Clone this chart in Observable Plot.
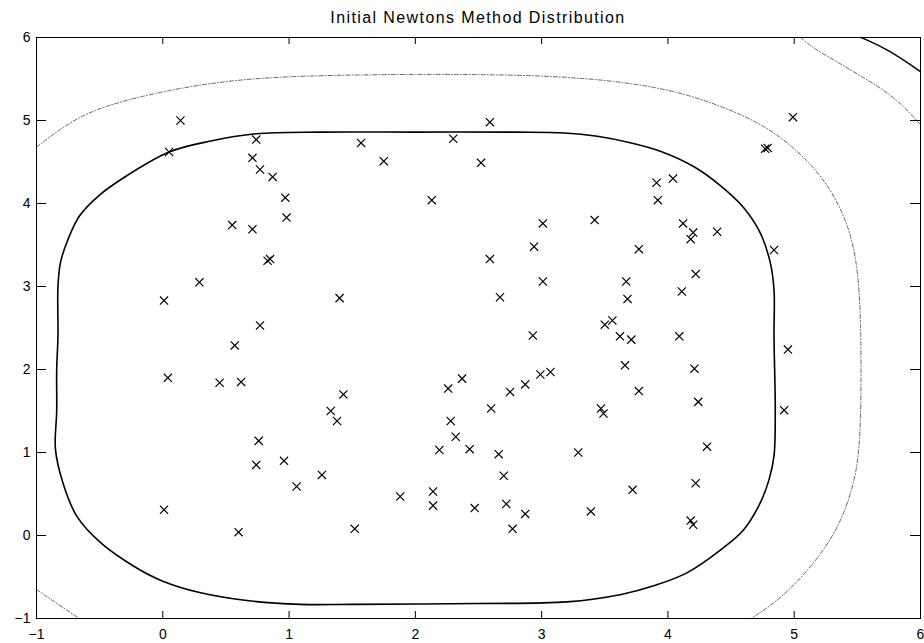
<!DOCTYPE html>
<html><head><meta charset="utf-8">
<script src="https://cdn.jsdelivr.net/npm/d3@7"></script>
<script src="https://cdn.jsdelivr.net/npm/@observablehq/plot@0.6"></script>
<style>
body{margin:0;background:#fff;}
#title{height:30px;width:924px;position:relative;font:16px "Liberation Sans",Arial,sans-serif;letter-spacing:1.4px;color:#000;}
#title span{position:absolute;left:478px;top:9px;transform:translateX(-50%);white-space:nowrap;}
</style></head><body>
<div id="title"><span>Initial Newtons Method Distribution</span></div>
<div id="chart"></div>
<script>
// Tick values
const xTicks = [-1, 0, 1, 2, 3, 4, 5, 6];
const yTicks = [-1, 0, 1, 2, 3, 4, 5, 6];

// Initial points (x marks)
const ptsX = [0.14,0.05,0.74,0.71,0.77,0.87,0.97,0.98,0.55,0.71,0.83,0.85,0.29,0.01,0.77,1.40,
  2.59,1.57,2.30,1.75,2.52,2.13,3.01,3.42,2.94,2.59,3.01,3.67,2.67,3.68,3.50,3.56,2.93,3.62,
  4.99,4.77,4.79,3.91,4.04,3.92,4.12,4.20,4.18,4.39,3.77,4.84,4.22,4.11,4.09,
  0.57,0.04,0.45,0.62,1.33,1.38,0.76,0.96,0.74,1.26,1.06,0.01,0.60,
  2.37,2.26,1.43,2.99,3.07,2.87,2.75,3.66,2.60,3.47,3.49,2.28,2.32,2.19,2.43,2.66,3.29,2.70,
  1.88,2.14,2.14,2.47,2.72,2.87,3.39,1.52,2.77,
  4.95,4.21,3.77,4.24,4.92,4.31,3.72,4.22,4.18,4.20,3.71];
const ptsY = [5.00,4.62,4.77,4.55,4.41,4.32,4.07,3.83,3.74,3.69,3.31,3.33,3.05,2.83,2.53,2.86,
  4.98,4.73,4.78,4.51,4.49,4.04,3.76,3.80,3.48,3.33,3.06,3.06,2.87,2.85,2.54,2.59,2.41,2.40,
  5.04,4.66,4.67,4.25,4.30,4.04,3.76,3.65,3.57,3.66,3.45,3.44,3.15,2.94,2.40,
  2.29,1.90,1.84,1.85,1.50,1.38,1.14,0.90,0.85,0.73,0.59,0.31,0.04,
  1.89,1.77,1.70,1.94,1.97,1.82,1.73,2.05,1.53,1.53,1.47,1.38,1.19,1.03,1.04,0.98,1.00,0.72,
  0.47,0.53,0.36,0.33,0.38,0.26,0.29,0.08,0.08,
  2.24,2.01,1.74,1.61,1.51,1.07,0.55,0.63,0.18,0.13,2.36];

// Contour lines, as [x, y] pairs
const innerContour = [
  [-0.85,1.04],[-0.84,1.5],[-0.84,2.0],[-0.83,2.4],[-0.83,3.0],[-0.81,3.29],[-0.75,3.57],[-0.66,3.85],
  [-0.51,4.09],[-0.31,4.31],[0.05,4.62],[0.37,4.75],[0.74,4.84],[1.25,4.86],[2.0,4.86],[2.8,4.86],
  [3.18,4.85],[3.44,4.81],[3.71,4.73],[3.94,4.63],[4.21,4.44],[4.42,4.21],[4.60,3.95],[4.73,3.65],
  [4.81,3.29],[4.84,2.96],[4.84,2.39],[4.85,1.5],[4.84,0.96],[4.80,0.67],[4.73,0.39],[4.60,0.07],
  [4.42,-0.17],[4.15,-0.45],[3.90,-0.60],[3.63,-0.71],[3.20,-0.80],[2.5,-0.82],[1.5,-0.83],
  [1.09,-0.83],[0.70,-0.79],[0.30,-0.69],[0.00,-0.55],[-0.23,-0.37],[-0.49,-0.09],[-0.68,0.23],[-0.79,0.63]
];
const outerContour = [
  [-1,4.68],[-0.75,4.97],[-0.49,5.17],[0.04,5.37],[0.56,5.49],[1.09,5.54],[2.0,5.56],[3.0,5.55],
  [3.65,5.47],[4.15,5.33],[4.63,5.05],[4.89,4.81],[5.10,4.53],[5.28,4.20],[5.42,3.78],[5.50,3.30],
  [5.53,2.6],[5.53,1.5],[5.51,0.9],[5.45,0.50],[5.35,0.10],[5.20,-0.25],[5.02,-0.57],
  [4.84,-0.82],[4.66,-1]
];
const lowerLeftContour = [[-1,-0.65],[-0.83,-0.83],[-0.66,-1]];
const upperRightDotted = [[5.05,6],[5.16,5.86],[5.35,5.70],[5.53,5.53],[5.71,5.37],[5.87,5.17],[6,4.95]];
const upperRightSolid = [[5.53,6],[5.74,5.86],[6,5.59]];

const W = 924, H = 613, mT = 7, mB = 25, mL = 36, mR = 4;
const innerH = H - mT - mB, innerW = W - mL - mR;
const pts = ptsX.map((x, i) => ({x, y: ptsY[i]}));
const gray = {x: d => d[0], y: d => d[1], stroke: "#666", strokeWidth: 1, strokeDasharray: "4,2,1,2", curve: "basis"};
const fmt = d => (d < 0 ? "\u2212" + (-d) : String(d));

const chart = Plot.plot({
  width: W, height: H,
  marginTop: mT, marginBottom: mB, marginLeft: mL, marginRight: mR,
  x: {domain: [-1, 6]},
  y: {domain: [-1, 6]},
  style: {fontFamily: '"Liberation Sans", Arial, sans-serif', fontSize: "14px", color: "#000", background: "#fff"},
  marks: [
    Plot.line(outerContour, gray),
    Plot.line(lowerLeftContour, gray),
    Plot.line(upperRightDotted, gray),
    Plot.line(upperRightSolid, {x: d => d[0], y: d => d[1], stroke: "#000", strokeWidth: 1.5, curve: "basis"}),
    Plot.line(innerContour, {x: d => d[0], y: d => d[1], stroke: "#000", strokeWidth: 1.6, curve: "catmull-rom-closed"}),
    Plot.dot(pts, {x: "x", y: "y", symbol: "times", r: 3.8, stroke: "#000", strokeWidth: 1.2}),
    Plot.frame({stroke: "#000", strokeWidth: 1}),
    Plot.tickX(xTicks, {x: d => d, insetTop: innerH - 7, stroke: "#000"}),
    Plot.tickX(xTicks, {x: d => d, insetBottom: innerH - 7, stroke: "#000"}),
    Plot.tickY(yTicks, {y: d => d, insetRight: innerW - 10, stroke: "#000"}),
    Plot.tickY(yTicks, {y: d => d, insetLeft: innerW - 10, stroke: "#000"}),
    Plot.axisX({ticks: xTicks, tickFormat: fmt, tickSize: 0, tickPadding: 11, fontSize: 14, label: null}),
    Plot.axisY({ticks: yTicks, tickFormat: fmt, tickSize: 0, tickPadding: 6, fontSize: 14, label: null})
  ]
});
document.getElementById("chart").appendChild(chart);
</script>
</body></html>
